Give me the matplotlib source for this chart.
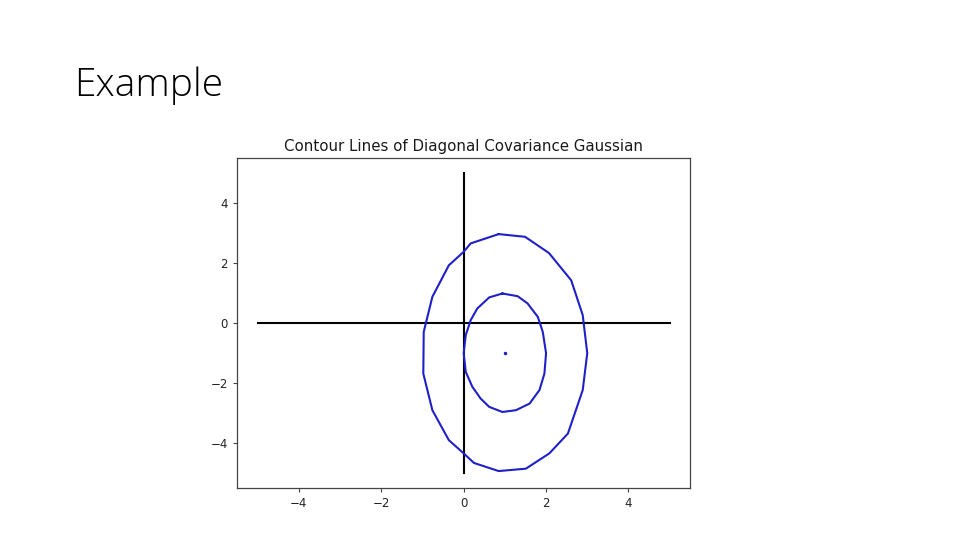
import matplotlib.pyplot as plt

# contour vertices (x, y)
outer_x = [0.85, 1.49, 2.07, 2.61, 2.89, 3.0, 2.89, 2.53, 2.08, 1.51, 0.85, 0.25, 0.0,
           -0.36, -0.76, -0.98, -0.97, -0.76, -0.36, 0.0, 0.17, 0.85]
outer_y = [2.97, 2.88, 2.34, 1.43, 0.27, -1.0, -2.23, -3.68, -4.34, -4.85, -4.93, -4.66, -4.34,
           -3.9, -2.9, -1.68, -0.29, 0.88, 1.93, 2.38, 2.66, 2.97]

inner_x = [0.94, 1.31, 1.55, 1.8, 1.92, 2.0, 1.96, 1.84, 1.6, 1.27, 0.94, 0.62, 0.41,
           0.21, 0.05, 0.0, 0.05, 0.17, 0.33, 0.62, 0.94]
inner_y = [0.99, 0.9, 0.66, 0.21, -0.29, -1.0, -1.68, -2.23, -2.68, -2.9, -2.96, -2.79, -2.51,
           -2.12, -1.62, -1.0, -0.4, 0.1, 0.49, 0.86, 0.99]

mean = (1, -1)
axis_span = [-5, 5]

fig = plt.figure(figsize=(9.6, 5.4), dpi=100)
fig.text(0.077, 0.823, "Example", fontsize=28, family="Open Sans", weight="light")

ax = fig.add_axes([0.247, 0.096, 0.472, 0.611])
ax.plot(axis_span, [0, 0], color="black", lw=1.5)
ax.plot([0, 0], axis_span, color="black", lw=1.5)
ax.plot(outer_x, outer_y, color="#2020c8", lw=1.5)
ax.plot(inner_x, inner_y, color="#2020c8", lw=1.5)
ax.plot(*mean, marker="o", ms=1.5, color="#2020c8")

ax.set_xlim(-5.5, 5.5)
ax.set_ylim(-5.5, 5.5)
ax.set_xticks([-4, -2, 0, 2, 4])
ax.set_yticks([-4, -2, 0, 2, 4])
ax.tick_params(labelsize=8.5, length=3, color="#444444", labelcolor="#222222")
for s in ax.spines.values():
    s.set_color("#444444")
    s.set_linewidth(0.9)
ax.set_title("Contour Lines of Diagonal Covariance Gaussian", fontsize=10.8, color="#1a1a1a", pad=5)

fig.savefig("out.png")
